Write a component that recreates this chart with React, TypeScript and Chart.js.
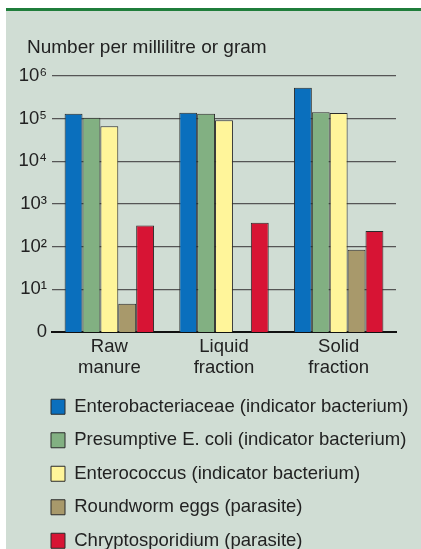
import React, { useEffect, useRef } from 'react';
import { Chart, registerables } from 'chart.js';

Chart.register(...registerables);

const categories = [['Raw', 'manure'], ['Liquid', 'fraction'], ['Solid', 'fraction']];
const seriesNames = [
  'Enterobacteriaceae (indicator bacterium)',
  'Presumptive E. coli (indicator bacterium)',
  'Enterococcus (indicator bacterium)',
  'Roundworm eggs (parasite)',
  'Chryptosporidium (parasite)',
];
const enterobacteriaceae = [130000, 137000, 530000];
const presumptiveEColi = [105000, 130000, 142000];
const enterococcus = [66000, 92000, 135000];
const roundwormEggs = [4.6, null, 85];
const cryptosporidium = [315, 365, 233];
const seriesColors = ['#0a6fbd', '#82b082', '#fff59a', '#a8996b', '#d71434'];
const titleText = 'Number per millilitre or gram';
const yTickValues = [1, 10, 100, 1000, 10000, 100000, 1000000];
const yTickLabels = ['0', '10\u00b9', '10\u00b2', '10\u00b3', '10\u2074', '10\u2075', '10\u2076'];

const FONT = '"Liberation Sans", Arial, sans-serif';
const TEXT = '#222222';

const layoutNudge = {
  id: 'layoutNudge',
  afterLayout(chart: any) {
    if (chart.titleBlock) chart.titleBlock.left += 9;
    if (chart.legend) {
      chart.legend.left += 18;
      chart.legend.right = chart.width;
    }
  },
};

export default function App() {
  const ref = useRef<HTMLCanvasElement>(null);
  useEffect(() => {
    document.body.style.margin = '0';
    const values = [enterobacteriaceae, presumptiveEColi, enterococcus, roundwormEggs, cryptosporidium];
    const chart = new Chart(ref.current as HTMLCanvasElement, {
      type: 'bar',
      data: {
        labels: categories,
        datasets: seriesNames.map((name, i) => ({
          label: name,
          data: values[i],
          backgroundColor: seriesColors[i],
          borderColor: '#2b2b2b',
          borderWidth: 1,
          categoryPercentage: 0.78,
          barPercentage: 1,
        })),
      },
      options: {
        responsive: false,
        animation: false,
        layout: { padding: { left: 18, right: 25, top: 0, bottom: 0 } },
        plugins: {
          tooltip: { enabled: false },
          title: {
            display: true,
            text: titleText,
            align: 'start',
            color: TEXT,
            font: { family: FONT, size: 19, weight: 'normal' },
            padding: { top: 36.6, bottom: 16.6 },
          },
          legend: {
            display: true,
            position: 'bottom',
            align: 'start',
            labels: {
              color: TEXT,
              font: { family: FONT, size: 18.5 },
              boxWidth: 14,
              boxHeight: 15,
              padding: 15,
            },
          },
        },
        scales: {
          x: {
            grid: { display: false, drawTicks: false },
            border: { display: true, color: '#111111', width: 2 },
            ticks: {
              color: TEXT,
              font: { family: FONT, size: 18.5, lineHeight: 1.15 },
              padding: 4,
              maxRotation: 0,
            },
          },
          y: {
            type: 'logarithmic',
            min: 1,
            max: 1000000,
            afterBuildTicks: (axis: any) => {
              axis.ticks = yTickValues.map((v) => ({ value: v }));
            },
            afterFit: (scale: any) => {
              scale.width = 34;
            },
            grid: { color: '#555555', lineWidth: 1.2, drawTicks: false },
            border: { display: false },
            ticks: {
              color: TEXT,
              font: { family: FONT, size: 18.5 },
              padding: 5,
              callback: (_v: any, i: number) => yTickLabels[i],
            },
          },
        },
      },
      plugins: [layoutNudge],
    });
    return () => chart.destroy();
  }, []);

  return (
    <div style={{ position: 'relative', width: 421, height: 549, overflow: 'hidden', background: '#ffffff' }}>
      <div style={{ position: 'absolute', left: 6, top: 8, right: 0, height: 3, background: '#1f7d3b' }} />
      <div style={{ position: 'absolute', left: 6, top: 11, right: 0, bottom: 0, background: '#d0ddd4' }} />
      <canvas
        ref={ref}
        width={421}
        height={560}
        style={{ position: 'absolute', left: 0, top: 0, display: 'block', width: 421, height: 560 }}
      />
    </div>
  );
}
